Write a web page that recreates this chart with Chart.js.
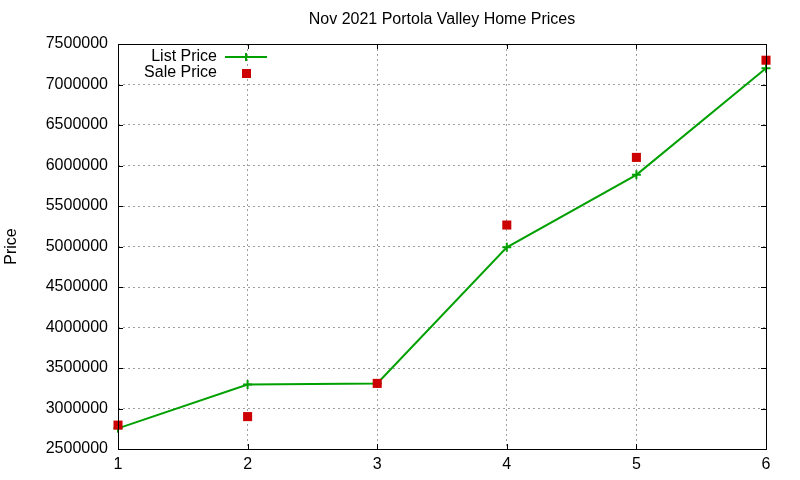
<!DOCTYPE html>
<html>
<head>
<meta charset="utf-8">
<script src="https://cdn.jsdelivr.net/npm/chart.js@4/dist/chart.umd.min.js"></script>
<style>
  html, body { margin: 0; padding: 0; background: #fff; }
  #wrap { width: 800px; height: 480px; }
</style>
</head>
<body>
<div id="wrap"><canvas id="c" width="800" height="480"></canvas></div>
<script>
// data
var homeIndex = [1, 2, 3, 4, 5, 6];
var listPrice = [2755000, 3295000, 3310000, 4990000, 5885000, 7200000];
var salePrice = [2795000, 2900000, 3310000, 5265000, 6100000, 7300000];
var yTicks = [2500000, 3000000, 3500000, 4000000, 4500000, 5000000, 5500000, 6000000, 6500000, 7000000, 7500000];
var chartTitle = 'Nov 2021 Portola Valley Home Prices';

var FONT = '"Liberation Sans", Arial, sans-serif';
var GREEN = '#00a000';
var RED = '#cc0000';

function toPoints(xs, ys) {
    return xs.map(function(x, i) { return {x: x, y: ys[i]}; });
}

// title over the plot box, box border, mirrored inward ticks and the key (gnuplot look)
var gnuFrame = {
    id: 'gnuFrame',
    afterDraw: function(chart) {
        var ctx = chart.ctx;
        var a = chart.chartArea;
        var xs = chart.scales.x, ys = chart.scales.y;
        var tl = 5;
        ctx.save();

        ctx.font = '16px ' + FONT;
        ctx.fillStyle = '#000';
        ctx.textAlign = 'center';
        ctx.textBaseline = 'middle';
        ctx.fillText(chartTitle, (a.left + a.right) / 2, a.top - 24);

        ctx.strokeStyle = '#000';
        ctx.lineWidth = 1;
        ctx.beginPath();
        xs.ticks.forEach(function(t) {
            var px = Math.round(xs.getPixelForValue(t.value)) + 0.5;
            ctx.moveTo(px, a.bottom); ctx.lineTo(px, a.bottom - tl);
            ctx.moveTo(px, a.top); ctx.lineTo(px, a.top + tl);
        });
        ys.ticks.forEach(function(t) {
            var py = Math.round(ys.getPixelForValue(t.value)) + 0.5;
            ctx.moveTo(a.left, py); ctx.lineTo(a.left + tl, py);
            ctx.moveTo(a.right, py); ctx.lineTo(a.right - tl, py);
        });
        ctx.stroke();
        ctx.strokeRect(Math.round(a.left) + 0.5, Math.round(a.top) + 0.5,
                       Math.round(a.right - a.left), Math.round(a.bottom - a.top));

        // key
        var textRight = a.left + 99;
        var keyX = a.left + 128;
        var row1 = a.top + 13, row2 = a.top + 29;
        ctx.textAlign = 'right';
        ctx.fillText('List Price', textRight, row1);
        ctx.fillText('Sale Price', textRight, row2);
        ctx.strokeStyle = GREEN;
        ctx.lineWidth = 2;
        ctx.beginPath();
        ctx.moveTo(keyX - 21, row1); ctx.lineTo(keyX + 21, row1);
        ctx.moveTo(keyX, row1 - 4); ctx.lineTo(keyX, row1 + 4);
        ctx.stroke();
        ctx.fillStyle = RED;
        ctx.fillRect(keyX - 4, row2 - 4, 9, 9);
        ctx.restore();
    }
};

new Chart(document.getElementById('c'), {
    type: 'line',
    data: {
        datasets: [{
            label: 'List Price',
            data: toPoints(homeIndex, listPrice),
            borderColor: GREEN,
            backgroundColor: GREEN,
            borderWidth: 2,
            pointStyle: 'cross',
            pointRadius: 4.5,
            pointBorderWidth: 2,
            tension: 0,
            clip: false,
            order: 1
        }, {
            label: 'Sale Price',
            data: toPoints(homeIndex, salePrice),
            showLine: false,
            borderColor: RED,
            backgroundColor: RED,
            pointStyle: 'rect',
            pointRadius: 6.4,
            pointBorderWidth: 0,
            clip: false,
            order: 0
        }]
    },
    options: {
        responsive: false,
        animation: false,
        devicePixelRatio: 1,
        layout: { padding: { left: 0, right: 34, top: 44, bottom: 0 } },
        plugins: {
            legend: { display: false },
            tooltip: { enabled: false },
            title: { display: false }
        },
        scales: {
            x: {
                type: 'linear',
                min: 1,
                max: 6,
                afterFit: function(s) { s.height = 31; },
                afterBuildTicks: function(s) {
                    s.ticks = homeIndex.map(function(v) { return {value: v}; });
                },
                border: { display: false, dash: [2, 3] },
                grid: { color: '#a0a0a0', lineWidth: 1, drawTicks: false },
                ticks: {
                    color: '#000',
                    padding: 6,
                    font: { family: FONT, size: 16 },
                    maxRotation: 0
                }
            },
            y: {
                min: 2500000,
                max: 7500000,
                afterFit: function(s) { s.width = 118; },
                afterBuildTicks: function(s) {
                    s.ticks = yTicks.map(function(v) { return {value: v}; });
                },
                border: { display: false, dash: [2, 3] },
                grid: { color: '#a0a0a0', lineWidth: 1, drawTicks: false },
                ticks: {
                    color: '#000',
                    padding: 10,
                    font: { family: FONT, size: 16 },
                    callback: function(v) { return String(v); }
                },
                title: {
                    display: true,
                    text: 'Price',
                    color: '#000',
                    font: { family: FONT, size: 16 },
                    padding: { top: 2, bottom: 0 }
                }
            }
        }
    },
    plugins: [gnuFrame]
});
</script>
</body>
</html>
